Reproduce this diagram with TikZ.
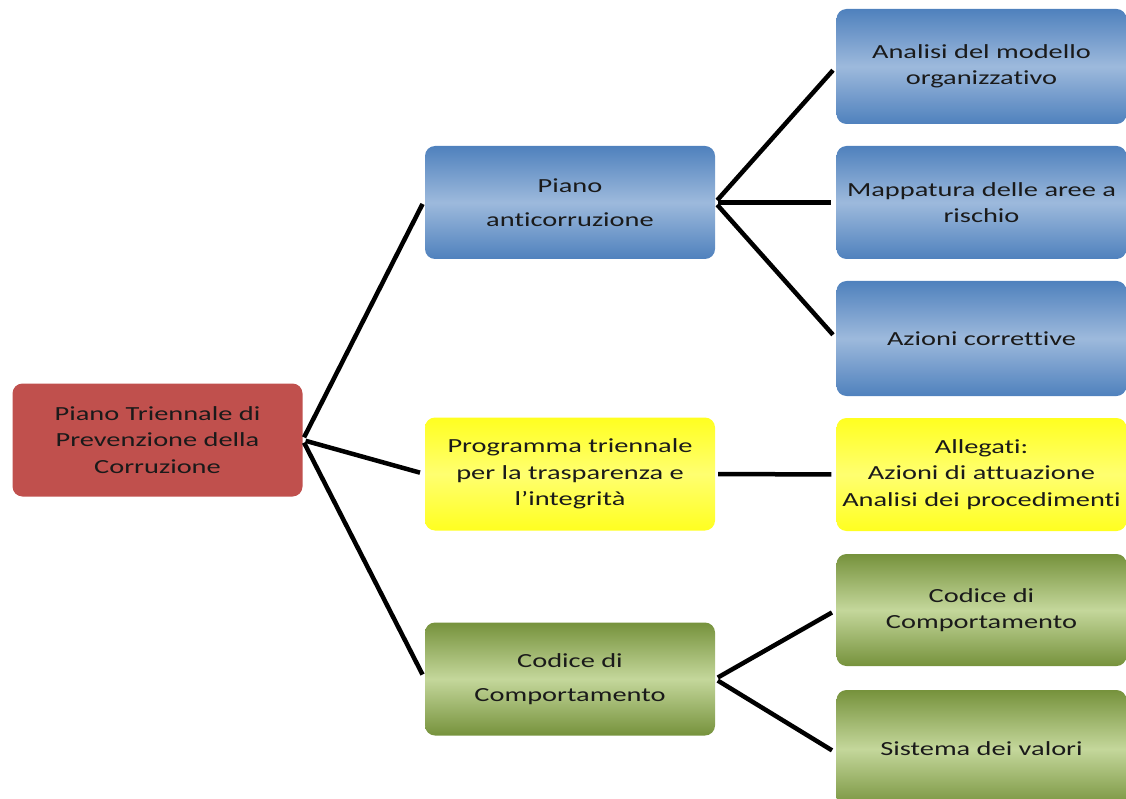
\documentclass[tikz,border=0pt]{standalone}
\usepackage{fontspec}
\setmainfont[FakeStretch=1.42,Ligatures={NoCommon}]{Carlito}
\usetikzlibrary{positioning}
\definecolor{rootred}{HTML}{C0504D}
\definecolor{bluedark}{HTML}{4F81BD}
\definecolor{bluelight}{HTML}{9DB9DC}
\definecolor{greendark}{HTML}{76923C}
\definecolor{greenlight}{HTML}{C4D79B}
\definecolor{yel}{HTML}{FFFF20}
\definecolor{yellight}{HTML}{FFFF70}
\definecolor{txt}{HTML}{1A1A1A}
\tikzset{
  box/.style={rectangle, rounded corners=10pt, minimum width=290pt, minimum height=113pt,
    inner sep=0pt, align=center, text=txt, font=\fontsize{20}{26.5}\selectfont},
  rootbox/.style={box, fill=rootred},
  bluebox/.style={box, top color=bluedark, bottom color=bluedark, middle color=bluelight},
  greenbox/.style={box, top color=greendark, bottom color=greendark, middle color=greenlight},
  yelbox/.style={box, top color=yel, bottom color=yel, middle color=yellight},
  link/.style={line width=4.5pt, black, shorten <=3pt, shorten >=5pt},
}
\begin{document}
\begin{tikzpicture}[x=1pt,y=-1pt]
\useasboundingbox (0,0) rectangle (1126,799);
\node[rootbox] (root) at (157.5,440) {Piano Triennale di\\Prevenzione della\\Corruzione};
\node[bluebox] (piano) at (570,202.5) {Piano\\[8pt]anticorruzione};
\node[yelbox] (prog) at (570,474) {Programma triennale\\per la trasparenza e\\l’integrità};
\node[greenbox] (cod) at (570,679) {Codice di\\[8pt]Comportamento};
\node[bluebox, minimum height=115pt] (anal) at (981.5,66.5) {Analisi del modello\\organizzativo};
\node[bluebox] (mapp) at (981.5,202.5) {Mappatura delle aree a\\rischio};
\node[bluebox, minimum height=115pt] (azio) at (981.5,338.5) {Azioni correttive};
\node[yelbox] (alleg) at (981.5,474.5) {Allegati:\\Azioni di attuazione\\Analisi dei procedimenti};
\node[greenbox, minimum height=112pt] (codr) at (981.5,610) {Codice di\\Comportamento};
\node[greenbox, minimum height=118pt] (sist) at (981.5,749) {Sistema dei valori};
\draw[link] (root.east) -- ([yshift=3pt]piano.west);
\draw[link] (root.east) -- (prog.west);
\draw[link] (root.east) -- (cod.west);
\draw[link] (piano.east) -- (anal.west);
\draw[link] (piano.east) -- (mapp.west);
\draw[link] (piano.east) -- (azio.west);
\draw[link] (prog.east) -- (alleg.west);
\draw[link] (cod.east) -- (codr.west);
\draw[link] (cod.east) -- ([yshift=-4pt]sist.west);
\end{tikzpicture}
\end{document}
